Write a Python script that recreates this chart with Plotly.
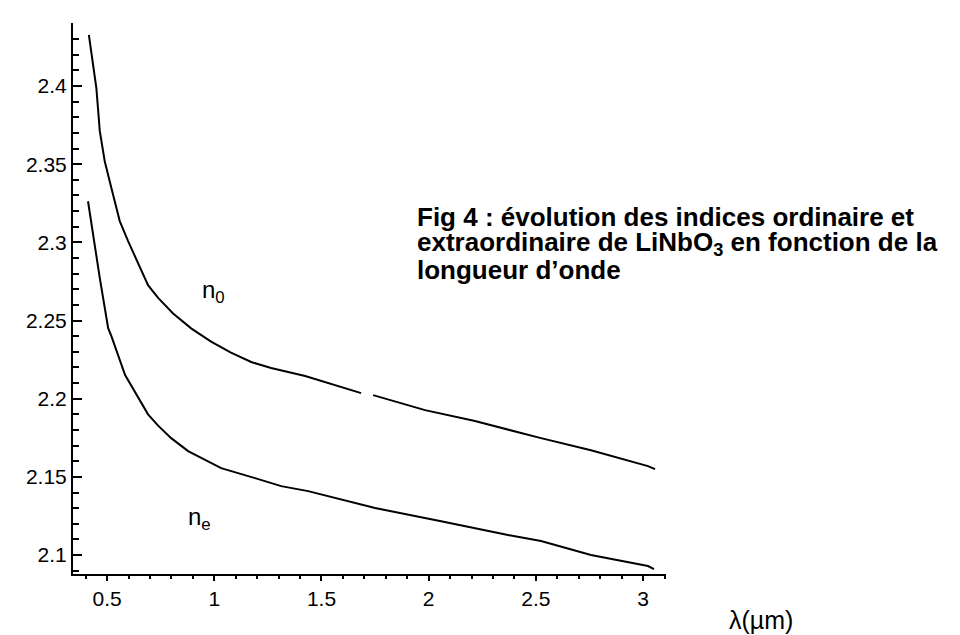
import plotly.graph_objects as go

# Ordinary index n_o
lam_o = [0.415, 0.450, 0.466, 0.489, 0.520, 0.559, 0.598, 0.691, 0.738, 0.808, 0.892,
         0.985, 1.078, 1.172, 1.265, 1.424, 1.685, None, 1.741, 1.983, 2.216, 2.524, 2.757, 3.023, 3.056]
n_o = [2.4327, 2.3986, 2.3711, 2.3519, 2.3347, 2.3136, 2.3008, 2.2726, 2.2645, 2.2545, 2.2450,
       2.2365, 2.2295, 2.2235, 2.2196, 2.2145, 2.2036, None, 2.2023, 2.1927, 2.1857, 2.1748, 2.1671, 2.1569, 2.1550]

# Extraordinary index n_e
lam_e = [0.411, 0.435, 0.466, 0.505, 0.520, 0.584, 0.691, 0.738, 0.799, 0.878, 0.957, 1.032,
         1.190, 1.312, 1.438, 1.750, 2.058, 2.370, 2.524, 2.757, 3.023, 3.051]
n_e = [2.3263, 2.3046, 2.2771, 2.2451, 2.2400, 2.2151, 2.1900, 2.1828, 2.1748, 2.1665, 2.1607, 2.1556,
       2.1492, 2.1441, 2.1409, 2.1301, 2.1217, 2.1128, 2.1090, 2.1000, 2.0930, 2.0910]

x_tickvals = [0.5, 1, 1.5, 2, 2.5, 3]
x_ticktext = ["0.5", "1", "1.5", "2", "2.5", "3"]
y_tickvals = [2.1, 2.15, 2.2, 2.25, 2.3, 2.35, 2.4]
y_ticktext = ["2.1", "2.15", "2.2", "2.25", "2.3", "2.35", "2.4"]

caption = [
    "Fig 4 : évolution des indices ordinaire et",
    "extraordinaire de LiNbO<sub>3</sub> en fonction de la",
    "longueur d’onde",
]

FONT = "Liberation Sans, Arial, sans-serif"

fig = go.Figure()
fig.add_trace(go.Scatter(x=lam_o, y=n_o, mode="lines", connectgaps=False,
                         line=dict(color="black", width=2), showlegend=False))
fig.add_trace(go.Scatter(x=lam_e, y=n_e, mode="lines",
                         line=dict(color="black", width=2), showlegend=False))

fig.update_layout(
    width=960, height=635,
    margin=dict(l=65, r=302, t=15, b=69, autoexpand=False),
    paper_bgcolor="white", plot_bgcolor="white",
    font=dict(family=FONT, color="black", size=21),
    xaxis=dict(range=[0.341, 3.107], showgrid=False, zeroline=False,
               showline=True, linecolor="black", linewidth=2,
               tickmode="array", tickvals=x_tickvals, ticktext=x_ticktext,
               ticks="outside", ticklen=5, tickwidth=2, tickcolor="black",
               minor=dict(dtick=0.1, tick0=0, ticks="outside", ticklen=3, tickwidth=2, tickcolor="black"),
               tickfont=dict(family=FONT, size=21, color="black")),
    yaxis=dict(range=[2.0879, 2.4403], showgrid=False, zeroline=False,
               showline=True, linecolor="black", linewidth=2,
               tickmode="array", tickvals=y_tickvals, ticktext=y_ticktext,
               ticks="inside", ticklen=9, tickwidth=2, tickcolor="black",
               minor=dict(dtick=0.01, tick0=2.0, ticks="inside", ticklen=6, tickwidth=2, tickcolor="black"),
               tickfont=dict(family=FONT, size=21, color="black")),
)

fig.add_annotation(x=0.994, y=2.2688, xref="x", yref="y", text="n<sub>0</sub>",
                   showarrow=False, font=dict(family=FONT, size=24, color="black"))
fig.add_annotation(x=0.929, y=2.1237, xref="x", yref="y", text="n<sub>e</sub>",
                   showarrow=False, font=dict(family=FONT, size=24, color="black"))

cap_y = [0.6488, 0.6000, 0.5512]
for txt, yy in zip(caption, cap_y):
    fig.add_annotation(x=0.5767, y=yy, xref="paper", yref="paper", text="<b>" + txt + "</b>",
                       showarrow=False, xanchor="left", yanchor="middle", align="left",
                       font=dict(family=FONT, size=26, color="black"))

fig.add_annotation(x=1.160, y=-0.084, xref="paper", yref="paper", text="λ(µm)",
                   showarrow=False, xanchor="center", yanchor="middle",
                   font=dict(family=FONT, size=25, color="black"))

fig.write_html("out.html")
